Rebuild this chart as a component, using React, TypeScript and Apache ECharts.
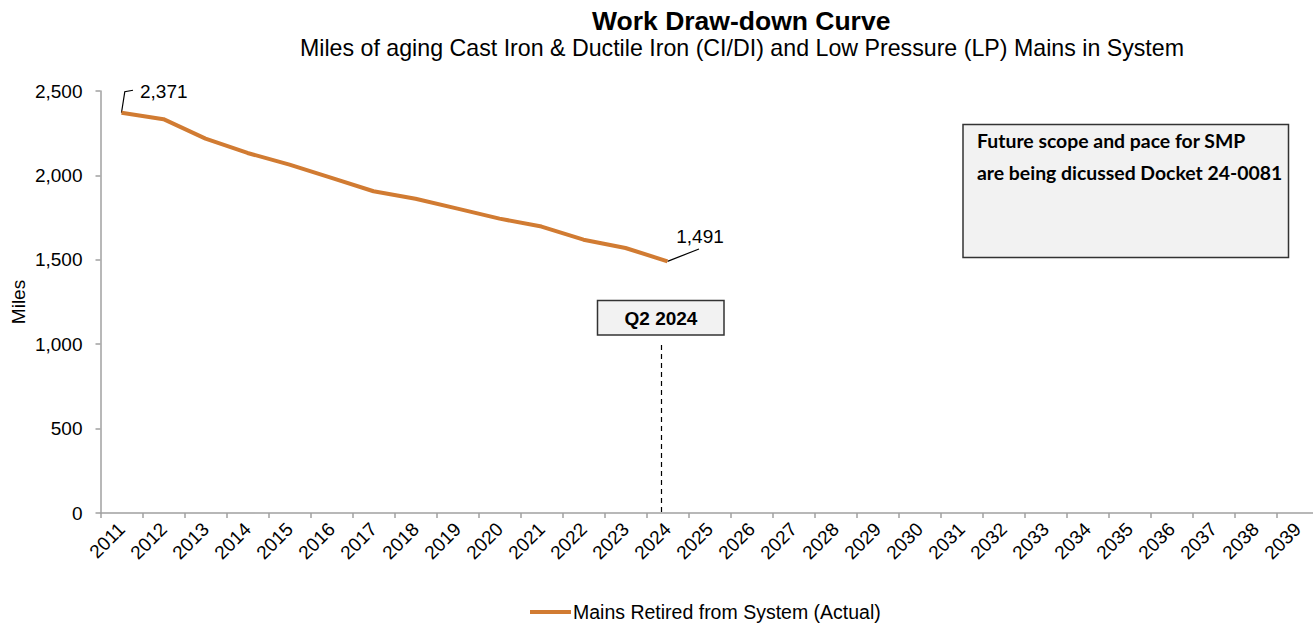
import React, { useEffect, useRef } from "react";
import * as echarts from "echarts";

const years = [
  "2011", "2012", "2013", "2014", "2015", "2016", "2017", "2018", "2019", "2020",
  "2021", "2022", "2023", "2024", "2025", "2026", "2027", "2028", "2029", "2030",
  "2031", "2032", "2033", "2034", "2035", "2036", "2037", "2038", "2039",
];
const actualMiles = [2371, 2333, 2218, 2133, 2064, 1985, 1906, 1862, 1803, 1744, 1697, 1619, 1570, 1491];
const seriesName = "Mains Retired from System (Actual)";
const titleText = "Work Draw-down Curve";
const subtitleText = "Miles of aging Cast Iron & Ductile Iron (CI/DI) and Low Pressure (LP) Mains in System";
const markerText = "Q2 2024";
const noteLines = ["Future scope and pace for SMP", "are being dicussed Docket 24-0081"];
const yTicks = { min: 0, max: 2500, interval: 500 };

const ARIAL = "'Liberation Sans', Arial, sans-serif";
const LINE_COLOR = "#D17B32";
const AXIS_COLOR = "#a0a0a0";

function fmt(v: number) {
  return v.toLocaleString("en-US");
}

export default function App() {
  const ref = useRef<HTMLDivElement>(null);

  useEffect(() => {
    if (!ref.current) return;
    const chart = echarts.init(ref.current, undefined, { renderer: "svg" });
    chart.setOption({
      animation: false,
      backgroundColor: "#ffffff",
      title: [
        {
          text: titleText,
          left: 592,
          top: 7,
          padding: 0,
          textStyle: { fontFamily: ARIAL, fontSize: 26.5, fontWeight: "bold", color: "#000", lineHeight: 27 },
        },
        {
          text: subtitleText,
          left: 300,
          top: 36,
          padding: 0,
          textStyle: { fontFamily: ARIAL, fontSize: 23.2, fontWeight: "normal", color: "#000", lineHeight: 24 },
        },
      ],
      legend: {
        data: [{ name: seriesName, icon: "rect" }],
        left: 530,
        top: 602,
        padding: 0,
        itemWidth: 41,
        itemHeight: 4,
        itemGap: 10,
        textStyle: { fontFamily: ARIAL, fontSize: 19.5, color: "#000", padding: [0, 0, 0, -3] },
      },
      grid: {
        left: 100.5,
        top: 91,
        width: 1218,
        height: 422,
        containLabel: false,
        outerBoundsMode: "none",
      },
      xAxis: {
        type: "category",
        data: years,
        boundaryGap: true,
        axisLine: { lineStyle: { color: AXIS_COLOR, width: 1.5 } },
        axisTick: { show: true, length: 5, lineStyle: { color: AXIS_COLOR, width: 1.5 } },
        axisLabel: {
          rotate: 45,
          interval: 0,
          margin: 13,
          fontFamily: ARIAL,
          fontSize: 19,
          color: "#000",
        },
        splitLine: { show: false },
      },
      yAxis: {
        type: "value",
        min: yTicks.min,
        max: yTicks.max,
        interval: yTicks.interval,
        name: "Miles",
        nameLocation: "middle",
        nameGap: 73,
        nameRotate: 90,
        nameMoveOverlap: false,
        nameTextStyle: { fontFamily: ARIAL, fontSize: 19, color: "#000" },
        axisLine: { show: true, lineStyle: { color: AXIS_COLOR, width: 1.5 } },
        axisTick: { show: true, length: 5, lineStyle: { color: AXIS_COLOR, width: 1.5 } },
        axisLabel: {
          margin: 18,
          fontFamily: ARIAL,
          fontSize: 19,
          color: "#000",
          formatter: (v: number) => fmt(v),
        },
        splitLine: { show: false },
      },
      series: [
        {
          name: seriesName,
          type: "line",
          data: actualMiles,
          symbol: "none",
          lineStyle: { color: LINE_COLOR, width: 4 },
          itemStyle: { color: LINE_COLOR },
        },
      ],
    });

    const first = chart.convertToPixel({ seriesIndex: 0 }, [0, actualMiles[0]]) as number[];
    const lastIdx = actualMiles.length - 1;
    const last = chart.convertToPixel({ seriesIndex: 0 }, [lastIdx, actualMiles[lastIdx]]) as number[];
    const base = chart.convertToPixel({ seriesIndex: 0 }, [lastIdx, 0]) as number[];

    const labelStyle = { fontFamily: ARIAL, fontSize: 19, fill: "#000" };
    const noteFont = "Lato, 'Open Sans', sans-serif";

    chart.setOption({
      graphic: [
        {
          type: "polyline",
          shape: {
            points: [
              [first[0], first[1]],
              [first[0] + 3.3, first[1] - 21],
              [first[0] + 11.5, first[1] - 22.5],
            ],
          },
          style: { stroke: "#000", lineWidth: 1.2, fill: "none" },
          silent: true,
        },
        {
          type: "text",
          x: first[0] + 18.5,
          y: first[1] - 21.5,
          style: { ...labelStyle, text: fmt(actualMiles[0]), textAlign: "left", textVerticalAlign: "middle" },
          silent: true,
        },
        {
          type: "line",
          shape: { x1: last[0], y1: last[1], x2: last[0] + 31.5, y2: last[1] - 12.3 },
          style: { stroke: "#000", lineWidth: 1.2 },
          silent: true,
        },
        {
          type: "text",
          x: last[0] + 32.5,
          y: last[1] - 24.6,
          style: { ...labelStyle, text: fmt(actualMiles[lastIdx]), textAlign: "center", textVerticalAlign: "middle" },
          silent: true,
        },
        {
          type: "line",
          shape: { x1: base[0] - 6, y1: 345, x2: base[0] - 6, y2: base[1] },
          style: { stroke: "#000", lineWidth: 1.2, lineDash: [5, 4] },
          silent: true,
        },
        {
          type: "rect",
          shape: { x: 597.5, y: 300.5, width: 126.5, height: 34.5 },
          style: { fill: "#f2f2f2", stroke: "#333", lineWidth: 1.5 },
          silent: true,
        },
        {
          type: "text",
          x: 661,
          y: 318,
          style: {
            text: markerText,
            fontFamily: ARIAL,
            fontSize: 19,
            fontWeight: "bold",
            fill: "#000",
            textAlign: "center",
            textVerticalAlign: "middle",
          },
          silent: true,
        },
        {
          type: "rect",
          shape: { x: 963, y: 124.5, width: 325.5, height: 133 },
          style: { fill: "#f2f2f2", stroke: "#333", lineWidth: 1.5 },
          silent: true,
        },
        {
          type: "text",
          x: 977,
          y: 140,
          style: {
            text: noteLines[0],
            fontFamily: noteFont,
            fontSize: 19.4,
            fontWeight: "bold",
            fill: "#000",
            textAlign: "left",
            textVerticalAlign: "middle",
          },
          silent: true,
        },
        {
          type: "text",
          x: 977,
          y: 172,
          style: {
            text: noteLines[1],
            fontFamily: noteFont,
            fontSize: 19.4,
            fontWeight: "bold",
            fill: "#000",
            textAlign: "left",
            textVerticalAlign: "middle",
          },
          silent: true,
        },
      ],
    });

    return () => {
      chart.dispose();
    };
  }, []);

  return (
    <div
      style={{
        position: "absolute",
        left: 0,
        top: 0,
        width: 1313,
        height: 625,
        overflow: "hidden",
        background: "#fff",
      }}
    >
      <div ref={ref} style={{ width: 1340, height: 625 }} />
    </div>
  );
}
